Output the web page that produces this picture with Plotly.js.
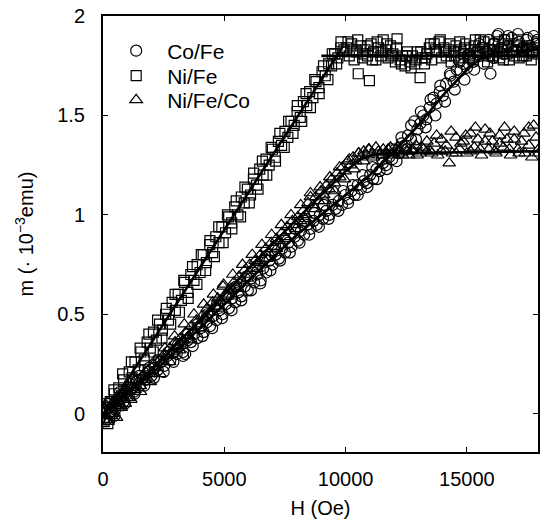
<!DOCTYPE html>
<html>
<head>
<meta charset="utf-8">
<script src="https://cdn.plot.ly/plotly-3.0.1.min.js"></script>
<style>html,body{margin:0;padding:0;background:#fff;}#chart{width:546px;height:525px;}</style>
</head>
<body>
<div id="chart"></div>
<script>
// Co/Fe (circles), sweep 1
const coFeH = [60,150,230,320,400,480,570,660,750,850,950,1060,1170,1280,1400,1520,1640,1760,1880,2000,2130,2260,2390,2520,2650,2780,2910,3040,3170,3300,3390,3500,3630,3760,3890,4020,4150,4280,4410,4540,4670,4800,4930,5060,5190,5320,5450,5580,5710,5840,5970,6100,6230,6360,6480,6600,6730,6860,6990,7120,7250,7380,7510,7640,7770,7900,8030,8160,8290,8420,8550,8680,8810,8940,9070,9200,9330,9460,9590,9720,9850,9980,10110,10240,10370,10500,10630,10760,10880,11010,11140,11270,11400,11530,11660,11790,11920,12050,12180,12310,12440,12570,12700,12830,12960,13080,13200,13330,13460,13620,13750,13880,14010,14140,14320,14450,14580,14730,14860,15000,15130,15260,15400,15530,15660,15800,15970,16100,16250,16400,16550,16700,16850,17000,17150,17300,17450,17600,17750,17870];
const coFeM = [0.02,-0.03,0.05,0.01,0.04,-0.01,0.07,0.05,0.09,0.06,0.11,0.09,0.13,0.11,0.16,0.14,0.18,0.17,0.21,0.19,0.23,0.22,0.26,0.24,0.29,0.27,0.31,0.30,0.34,0.31,0.30,0.37,0.36,0.40,0.38,0.43,0.41,0.46,0.44,0.49,0.47,0.52,0.50,0.55,0.53,0.58,0.56,0.61,0.59,0.64,0.62,0.68,0.66,0.70,0.655,0.73,0.71,0.77,0.75,0.80,0.78,0.83,0.81,0.86,0.84,0.89,0.87,0.92,0.90,0.95,0.93,0.97,0.95,1.00,0.98,1.02,1.00,1.05,1.03,1.07,1.05,1.10,1.08,1.12,1.10,1.15,1.13,1.17,1.16,1.20,1.18,1.23,1.22,1.26,1.25,1.29,1.28,1.33,1.31,1.36,1.35,1.40,1.38,1.47,1.43,1.46,1.50,1.48,1.54,1.59,1.56,1.62,1.60,1.66,1.70,1.67,1.73,1.725,1.76,1.74,1.79,1.77,1.82,1.80,1.84,1.82,1.71,1.86,1.90,1.84,1.88,1.85,1.89,1.83,1.87,1.84,1.88,1.85,1.90,1.86];
// Co/Fe, sweep 2
const coFeH2 = [100,300,500,700,900,1100,1300,1500,1700,1900,2100,2300,2500,2700,2900,3100,3300,3500,3700,3900,4100,4300,4500,4700,4900,5100,5300,5500,5700,5900,6100,6300,6500,6700,6900,7100,7300,7500,7700,7900,8100,8300,8500,8700,8900,9100,9300,9500,9700,9900,10100,10300,10500,10700,10900,11100,11300,11500,11700,11900,12100,12300,12500,12700,12900,13100,13300,13500,13700,13900,14100,14300,14500,14700,14900,15100,15300,15500,15700,15900,16100,16300,16500,16700,16900,17100,17300,17500,17700,17900];
const coFeM2 = [-0.02,0.06,0.02,0.11,0.05,0.15,0.10,0.19,0.14,0.23,0.18,0.27,0.21,0.31,0.26,0.35,0.29,0.40,0.34,0.45,0.39,0.50,0.43,0.55,0.48,0.59,0.52,0.64,0.57,0.69,0.62,0.74,0.67,0.79,0.72,0.84,0.77,0.88,0.81,0.93,0.86,0.97,0.90,1.01,0.94,1.05,0.98,1.09,1.02,1.12,1.06,1.15,1.10,1.20,1.14,1.24,1.18,1.28,1.23,1.33,1.27,1.39,1.33,1.45,1.38,1.52,1.44,1.58,1.50,1.65,1.57,1.71,1.63,1.77,1.68,1.81,1.73,1.86,1.76,1.88,1.79,1.91,1.81,1.90,1.82,1.91,1.83,1.89,1.82,1.88];

// Ni/Fe (squares), sweep 1
const niFeH = [50,120,200,300,380,470,560,650,760,850,950,1080,1200,1320,1450,1560,1700,1820,1950,2080,2200,2330,2450,2580,2700,2850,2980,3100,3230,3360,3500,3620,3750,3880,4000,4130,4260,4400,4520,4650,4780,4900,5050,5180,5300,5430,5560,5700,5820,5950,6080,6200,6330,6460,6600,6720,6850,6980,7100,7230,7360,7500,7620,7750,7880,8000,8130,8260,8400,8520,8650,8780,8900,9030,9160,9300,9420,9550,9680,9800,9930,10050,10150,10250,10350,10450,10520,10600,10700,10800,10900,10980,11050,11150,11250,11350,11450,11550,11650,11750,11850,11950,12050,12120,12250,12350,12450,12550,12650,12750,12850,12950,13070,13150,13250,13350,13450,13550,13650,13750,13850,13950,14050,14150,14250,14350,14450,14550,14650,14750,14850,14950,15050,15150,15250,15350,15450,15550,15650,15750,15850,15950,16050,16150,16250,16350,16450,16550,16650,16750,16850,16950,17050,17150,17250,17350,17450,17550,17650,17750,17850];
const niFeM = [-0.04,0.03,-0.05,0.06,0.01,0.10,0.05,0.13,0.09,0.17,0.12,0.21,0.18,0.26,0.22,0.31,0.27,0.36,0.33,0.41,0.37,0.45,0.42,0.50,0.47,0.56,0.52,0.60,0.57,0.66,0.61,0.70,0.67,0.75,0.71,0.80,0.76,0.85,0.81,0.89,0.86,0.94,0.91,0.99,0.96,1.04,1.00,1.09,1.06,1.13,1.10,1.18,1.15,1.23,1.20,1.28,1.25,1.33,1.29,1.37,1.35,1.42,1.39,1.47,1.45,1.52,1.49,1.57,1.55,1.62,1.59,1.67,1.64,1.72,1.70,1.76,1.75,1.81,1.79,1.84,1.83,1.84,1.80,1.86,1.78,1.82,1.71,1.85,1.79,1.83,1.80,1.675,1.86,1.82,1.78,1.84,1.80,1.88,1.83,1.79,1.85,1.81,1.77,1.885,1.78,1.80,1.75,1.82,1.77,1.80,1.76,1.82,1.69,1.79,1.76,1.81,1.84,1.78,1.86,1.82,1.87,1.79,1.84,1.80,1.83,1.77,1.82,1.85,1.79,1.83,1.81,1.86,1.80,1.83,1.78,1.88,1.82,1.88,1.84,1.81,1.77,1.83,1.80,1.86,1.82,1.79,1.84,1.88,1.81,1.78,1.83,1.80,1.85,1.79,1.82,1.84,1.80,1.83,1.78,1.81,1.84];
// Ni/Fe, sweep 2
const niFeH2 = [90,270,450,630,810,990,1170,1350,1530,1710,1890,2070,2250,2430,2610,2790,2970,3150,3330,3510,3690,3870,4050,4230,4410,4590,4770,4950,5130,5310,5490,5670,5850,6030,6210,6390,6570,6750,6930,7110,7290,7470,7650,7830,8010,8190,8370,8550,8730,8910,9090,9270,9450,9630,9810,10100,10300,10500,10700,10900,11100,11300,11500,11700,11900,12100,12300,12500,12700,12900,13100,13300,13500,13700,13900,14100,14300,14500,14700,14900,15100,15300,15500,15700,15900,16100,16300,16500,16700,16900,17100,17300,17500,17700,17900];
const niFeM2 = [0.05,-0.02,0.12,0.04,0.20,0.10,0.26,0.17,0.33,0.24,0.40,0.31,0.47,0.38,0.53,0.45,0.60,0.51,0.67,0.58,0.74,0.65,0.80,0.72,0.87,0.79,0.94,0.86,1.00,0.93,1.07,0.99,1.14,1.06,1.21,1.13,1.27,1.20,1.34,1.27,1.41,1.34,1.47,1.41,1.55,1.47,1.61,1.54,1.68,1.61,1.75,1.68,1.81,1.76,1.87,1.87,1.83,1.88,1.81,1.85,1.78,1.87,1.82,1.86,1.80,1.84,1.76,1.80,1.74,1.78,1.82,1.79,1.86,1.83,1.88,1.82,1.86,1.80,1.87,1.84,1.79,1.85,1.82,1.87,1.80,1.83,1.87,1.78,1.86,1.82,1.88,1.80,1.85,1.82,1.87];

// Ni/Fe/Co (triangles), sweep 1
const niFeCoH = [40,120,210,300,390,470,560,650,740,830,920,1010,1110,1210,1320,1430,1540,1650,1760,1870,1980,2090,2200,2310,2420,2530,2640,2750,2860,2970,3080,3190,3300,3410,3520,3630,3740,3850,3960,4070,4180,4290,4400,4510,4620,4730,4840,4970,5060,5170,5280,5390,5500,5610,5720,5830,5940,6050,6160,6270,6380,6490,6600,6710,6820,6930,7040,7150,7260,7370,7480,7590,7700,7810,7920,8030,8140,8250,8360,8450,8550,8660,8770,8880,8990,9100,9210,9320,9430,9540,9650,9760,9870,9980,10090,10200,10310,10420,10530,10640,10750,10860,10970,11100,11250,11400,11550,11700,11850,12000,12150,12300,12450,12600,12750,12900,13050,13200,13350,13500,13650,13800,13950,14100,14270,14400,14550,14700,14850,15000,15150,15300,15450,15600,15750,15900,16050,16200,16350,16500,16650,16800,16950,17100,17250,17400,17550,17680,17850,17950];
const niFeCoM = [-0.03,0.02,-0.04,0.03,0.00,0.05,-0.02,0.06,0.04,0.08,0.05,0.11,0.08,0.13,0.12,0.16,0.14,0.19,0.17,0.22,0.20,0.25,0.23,0.27,0.26,0.30,0.29,0.33,0.31,0.36,0.34,0.38,0.37,0.41,0.39,0.44,0.42,0.47,0.45,0.49,0.48,0.53,0.51,0.56,0.54,0.58,0.57,0.65,0.60,0.62,0.63,0.66,0.64,0.69,0.67,0.72,0.70,0.75,0.73,0.77,0.76,0.80,0.78,0.83,0.81,0.86,0.84,0.88,0.87,0.91,0.89,0.94,0.92,0.97,0.95,0.99,0.97,1.02,1.00,1.06,1.11,1.05,1.09,1.07,1.12,1.10,1.15,1.13,1.18,1.16,1.21,1.19,1.24,1.22,1.27,1.25,1.29,1.27,1.31,1.29,1.32,1.30,1.33,1.31,1.34,1.30,1.33,1.31,1.34,1.30,1.32,1.31,1.33,1.30,1.32,1.35,1.31,1.33,1.32,1.32,1.36,1.30,1.38,1.32,1.26,1.31,1.39,1.33,1.37,1.31,1.41,1.34,1.38,1.30,1.43,1.33,1.37,1.31,1.40,1.34,1.38,1.30,1.42,1.33,1.37,1.31,1.44,1.29,1.39,1.31];
// Ni/Fe/Co, sweep 2
const niFeCoH2 = [150,350,550,750,950,1150,1350,1550,1750,1950,2150,2350,2550,2750,2950,3150,3350,3550,3750,3950,4150,4350,4550,4750,4950,5150,5350,5550,5750,5950,6150,6350,6550,6750,6950,7150,7350,7550,7750,7950,8150,8350,8550,8750,8950,9150,9350,9550,9750,9950,10150,10350,10550,10750,10950,11150,11350,11550,11750,11950,12150,12350,12550,12750,12950,13150,13350,13550,13750,13950,14150,14350,14550,14750,14950,15150,15350,15550,15750,15950,16150,16350,16550,16750,16950,17150,17350,17550,17750,17950];
const niFeCoM2 = [0.04,-0.01,0.08,0.03,0.12,0.07,0.17,0.11,0.21,0.16,0.27,0.20,0.33,0.26,0.39,0.32,0.45,0.37,0.50,0.43,0.55,0.48,0.60,0.53,0.64,0.59,0.70,0.63,0.75,0.68,0.80,0.73,0.85,0.78,0.90,0.83,0.95,0.88,1.00,0.93,1.05,0.98,1.09,1.03,1.14,1.07,1.19,1.12,1.24,1.18,1.28,1.23,1.31,1.27,1.33,1.29,1.32,1.30,1.33,1.31,1.34,1.30,1.32,1.33,1.30,1.34,1.37,1.31,1.40,1.32,1.35,1.42,1.31,1.36,1.40,1.32,1.44,1.33,1.37,1.41,1.32,1.36,1.44,1.33,1.38,1.31,1.41,1.35,1.45,1.33];

// Fit lines
const fitNiFeH = [0, 9900];
const fitNiFeM = [-0.02, 1.85];
const fitNiFeSatH = [9000, 17930];
const fitNiFeSatM = [1.80, 1.80];
const fitCoFeH = [0,2000,4000,6000,8000,10000,11000,12000,13000,14000,15000,15600,16200,17930];
const fitCoFeM = [0,0.20,0.43,0.67,0.90,1.10,1.20,1.32,1.45,1.60,1.73,1.79,1.82,1.83];
const fitNiFeCoH = [0,2000,4000,6000,8000,9000,10000,10600,11200,12000,17930];
const fitNiFeCoM = [0,0.22,0.47,0.73,0.98,1.10,1.22,1.28,1.305,1.31,1.32];

const mk = (sym, size) => ({symbol: sym, size: size, color: '#000', line: {color: '#000', width: 1.2}});
const fitLine = {color: '#000', width: 2.6};

const traces = [
  {x: coFeH.concat(coFeH2), y: coFeM.concat(coFeM2), type: 'scatter', mode: 'markers', name: 'Co/Fe', marker: mk('circle-open', 11), legend: 'legend'},
  {x: niFeH.concat(niFeH2), y: niFeM.concat(niFeM2), type: 'scatter', mode: 'markers', name: 'Ni/Fe', marker: mk('square-open', 10), legend: 'legend2'},
  {x: niFeCoH.concat(niFeCoH2), y: niFeCoM.concat(niFeCoM2), type: 'scatter', mode: 'markers', name: 'Ni/Fe/Co', marker: mk('triangle-up-open', 11), legend: 'legend3'},
  {x: fitNiFeH, y: fitNiFeM, type: 'scatter', mode: 'lines', line: fitLine, showlegend: false, hoverinfo: 'skip'},
  {x: fitNiFeSatH, y: fitNiFeSatM, type: 'scatter', mode: 'lines', line: fitLine, showlegend: false, hoverinfo: 'skip'},
  {x: fitCoFeH, y: fitCoFeM, type: 'scatter', mode: 'lines', line: fitLine, showlegend: false, hoverinfo: 'skip'},
  {x: fitNiFeCoH, y: fitNiFeCoM, type: 'scatter', mode: 'lines', line: fitLine, showlegend: false, hoverinfo: 'skip'}
];

const fontFam = '"Liberation Sans", Arial, Helvetica, sans-serif';
const legendBase = (y) => ({x: 0.005, y: y, xanchor: 'left', yanchor: 'middle', bgcolor: 'rgba(0,0,0,0)', borderwidth: 0,
           font: {family: fontFam, size: 21, color: '#000'}, itemwidth: 52});
const layout = {
  width: 546, height: 525,
  margin: {l: 103, r: 8, t: 16, b: 73},
  paper_bgcolor: '#fff', plot_bgcolor: '#fff',
  font: {family: fontFam, size: 20, color: '#000'},
  showlegend: true,
  legend: legendBase(0.9197),
  legend2: legendBase(0.8624),
  legend3: legendBase(0.807),
  xaxis: {
    range: [0, 17930], tickvals: [0, 5000, 10000, 15000], ticktext: ['0', '5000', '10000', '15000'],
    ticks: 'inside', ticklen: 5, tickwidth: 1, tickcolor: '#000',
    showline: true, linecolor: '#000', linewidth: 2, mirror: 'ticks',
    showgrid: false, zeroline: false, ticklabelstandoff: 8,
    title: {text: 'H (Oe)', font: {family: fontFam, size: 20}, standoff: 12}
  },
  yaxis: {
    range: [-0.193, 2.0005], tickvals: [0, 0.5, 1, 1.5, 2], ticktext: ['0', '0.5', '1', '1.5', '2'],
    ticks: 'inside', ticklen: 5, tickwidth: 1, tickcolor: '#000',
    showline: true, linecolor: '#000', linewidth: 2, mirror: 'ticks',
    showgrid: false, zeroline: false, ticklabelstandoff: 12,
    title: {text: 'm (· 10<sup>−3</sup>emu)', font: {family: fontFam, size: 20}, standoff: 18}
  }
};

Plotly.newPlot('chart', traces, layout, {staticPlot: true, displayModeBar: false});
</script>
</body>
</html>
